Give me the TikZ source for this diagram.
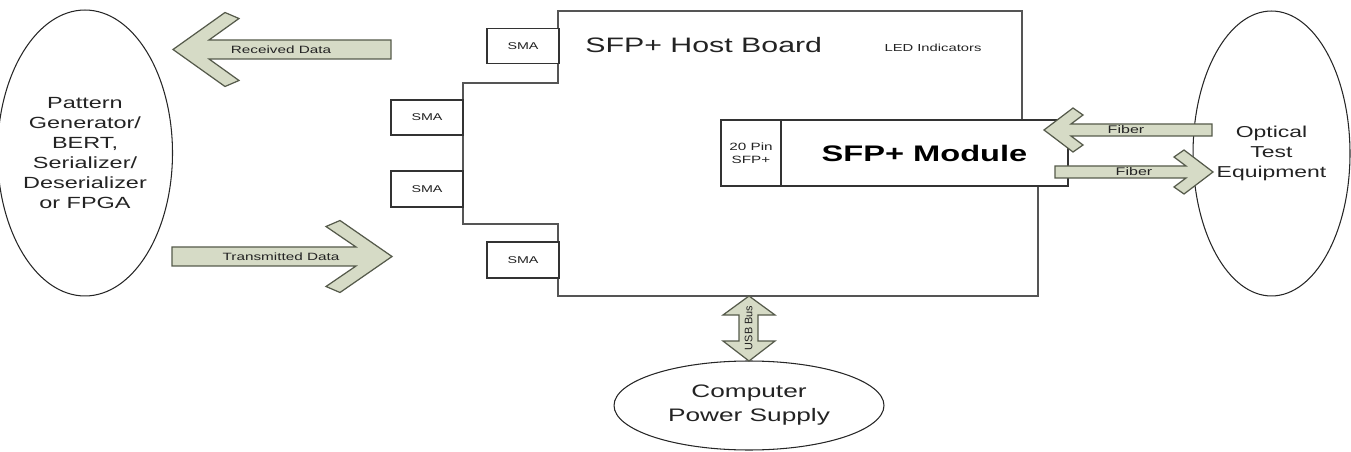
\documentclass[tikz,border=0pt]{standalone}
\usepackage{fontspec}
\setmainfont{Liberation Sans}[FakeStretch=1.45]
\newfontfamily\usbfont{Liberation Sans}
\usetikzlibrary{shapes.geometric}
\definecolor{arrfill}{RGB}{214,219,198}
\definecolor{arrline}{RGB}{85,90,75}
\definecolor{boardline}{RGB}{85,85,85}
\definecolor{txt}{RGB}{35,35,35}
\begin{document}
\begin{tikzpicture}[x=0.02cm,y=-0.02cm,
  boardedge/.style={draw=boardline,line width=1.1pt},
  smabox/.style={draw=black!80,line width=0.8pt,fill=white,minimum width=1.44cm,minimum height=0.71cm,inner sep=0pt,text=txt,font=\fontsize{5.6}{6.5}\selectfont},
  modbox/.style={draw=black!80,line width=0.9pt,fill=white,inner sep=0pt,minimum height=1.32cm,text=txt},
  bigell/.style={ellipse,draw=black!85,line width=0.6pt,inner sep=0pt,align=center,text=txt},
  blockarrow/.style={draw=arrline,fill=arrfill,line width=0.7pt,line join=miter},
  smalltxt/.style={text=txt,inner sep=0pt,font=\fontsize{6}{7}\selectfont}]
\useasboundingbox (0,0) rectangle (1351,452);

% host board outline
\draw[boardedge] (1022,120) -- (1022,11) -- (558,11) -- (558,83) -- (463,83) -- (463,224)
  -- (558,224) -- (558,296) -- (1038,296) -- (1038,186);

% SMA connectors
\node[smabox] (smaA) at (523,46) {SMA};
\node[smabox,minimum height=0.7cm] (smaB) at (427,117.5) {SMA};
\node[smabox,minimum height=0.72cm] (smaC) at (427,189) {SMA};
\node[smabox,minimum height=0.72cm] (smaD) at (523,260) {SMA};

% titles
\node[text=txt,inner sep=0pt,anchor=base west,font=\fontsize{11.9}{14}\selectfont] (hosttitle) at (585,53) {SFP+ Host Board};
\node[smalltxt,font=\fontsize{5.8}{7}\selectfont,anchor=base] (led) at (933,52) {LED Indicators};

% module
\node[modbox,minimum width=1.2cm,align=center,font=\fontsize{6}{7.4}\selectfont] (pins) at (751,153) {20 Pin\\SFP+};
\node[modbox,minimum width=5.74cm,font=\fontsize{12.8}{15}\selectfont\bfseries,text=black] (module) at (924.5,153) {SFP+ Module};

% ellipses
\node[bigell,minimum width=3.16cm,minimum height=5.72cm,font=\fontsize{9.2}{11.3}\selectfont] (pattern) at (85,153)
  {Pattern\\Generator/\\BERT,\\Serializer/\\Deserializer\\or FPGA};
\node[bigell,minimum width=3.14cm,minimum height=5.7cm,font=\fontsize{9}{11.6}\selectfont] (optical) at (1271.5,153.5)
  {Optical\\Test\\Equipment};
\node[bigell,minimum width=5.4cm,minimum height=1.78cm,font=\fontsize{10.3}{13.6}\selectfont] (computer) at (749,405.5)
  {Computer\\Power Supply};

% Received Data arrow (pointing left)
\draw[blockarrow,shift={(173,49.5)}] (0,0) -- (52,-37) -- (66,-31) -- (36,-9.5) -- (218,-9.5)
  -- (218,9.5) -- (36,9.5) -- (66,31) -- (52,37) -- cycle;
\node[smalltxt] (rxlbl) at (281,49.5) {Received Data};

% Transmitted Data arrow (pointing right)
\draw[blockarrow,shift={(392,256.5)},xscale=-1] (0,0) -- (52,-36) -- (66,-30) -- (36,-9.5) -- (220,-9.5)
  -- (220,9.5) -- (36,9.5) -- (66,30) -- (52,36) -- cycle;
\node[smalltxt] (txlbl) at (281,256.5) {Transmitted Data};

% Fiber arrows
\draw[blockarrow,shift={(1044,130)}] (0,0) -- (29,-22) -- (39,-15) -- (27,-6) -- (168,-6)
  -- (168,6) -- (27,6) -- (39,15) -- (29,22) -- cycle;
\node[smalltxt,font=\fontsize{6.3}{7}\selectfont] (fib1) at (1126,130) {Fiber};
\draw[blockarrow,shift={(1213,172)},xscale=-1] (0,0) -- (29,-22) -- (39,-15) -- (27,-6) -- (158,-6)
  -- (158,6) -- (27,6) -- (39,15) -- (29,22) -- cycle;
\node[smalltxt,font=\fontsize{6.3}{7}\selectfont] (fib2) at (1134,172) {Fiber};

% USB bus double arrow
\draw[blockarrow] (749,296) -- (775,315) -- (758,315) -- (758,341) -- (775,341) -- (749,361)
  -- (723,341) -- (739,341) -- (739,315) -- (723,315) -- cycle;
\node[smalltxt,rotate=90,font=\usbfont\fontsize{6.2}{7}\selectfont] (usb) at (748.5,328) {USB Bus};
\end{tikzpicture}
\end{document}
